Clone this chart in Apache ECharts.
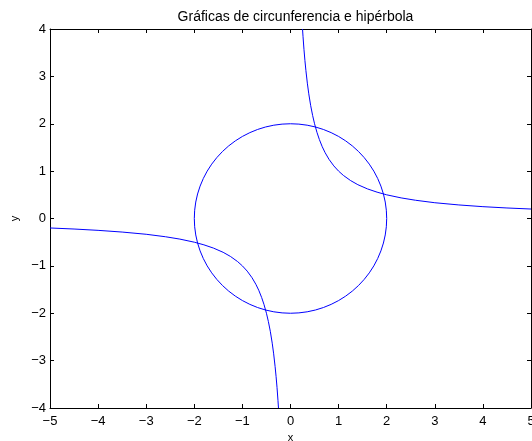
<!DOCTYPE html>
<html>
<head>
<meta charset="utf-8">
<script src="https://cdn.jsdelivr.net/npm/echarts@6/dist/echarts.min.js"></script>
<style>
  html, body { margin: 0; padding: 0; background: #fff; }
  #chart { width: 532px; height: 441px; }
</style>
</head>
<body>
<div id="chart"></div>
<script>
// Circle of radius 2, sampled every 5 degrees over the first quadrant (mirrored by sign below)
const circleQ1X = [2.0000, 1.9924, 1.9696, 1.9319, 1.8794, 1.8126, 1.7321, 1.6383, 1.5321, 1.4142,
                   1.2856, 1.1472, 1.0000, 0.8452, 0.6840, 0.5176, 0.3473, 0.1743, 0.0000];
const circleQ1Y = [0.0000, 0.1743, 0.3473, 0.5176, 0.6840, 0.8452, 1.0000, 1.1472, 1.2856, 1.4142,
                   1.5321, 1.6383, 1.7321, 1.8126, 1.8794, 1.9319, 1.9696, 1.9924, 2.0000];

// Hyperbola y = 1/x, positive branch samples
const hypX = [0.25, 0.26, 0.28, 0.30, 0.32, 0.35, 0.38, 0.42, 0.46, 0.50, 0.55, 0.60, 0.66, 0.72, 0.80, 0.90,
              1.00, 1.10, 1.25, 1.40, 1.60, 1.80, 2.00, 2.30, 2.60, 3.00, 3.50, 4.00, 4.50, 5.00];
const hypY = [4.000, 3.846, 3.571, 3.333, 3.125, 2.857, 2.632, 2.381, 2.174, 2.000, 1.818, 1.667, 1.515, 1.389, 1.250, 1.111,
              1.000, 0.909, 0.800, 0.714, 0.625, 0.556, 0.500, 0.435, 0.385, 0.333, 0.286, 0.250, 0.222, 0.200];

const xTicks = [-5, -4, -3, -2, -1, 0, 1, 2, 3, 4, 5];
const yTicks = [-4, -3, -2, -1, 0, 1, 2, 3, 4];

const titleText = 'Gráficas de circunferencia e hipérbola';

// Assemble full circle, going round counter-clockwise
const circle = [];
for (let i = 0; i < circleQ1X.length; i++) circle.push([circleQ1X[i], circleQ1Y[i]]);
for (let i = circleQ1X.length - 2; i >= 0; i--) circle.push([-circleQ1X[i], circleQ1Y[i]]);
for (let i = 1; i < circleQ1X.length; i++) circle.push([-circleQ1X[i], -circleQ1Y[i]]);
for (let i = circleQ1X.length - 2; i >= 0; i--) circle.push([circleQ1X[i], -circleQ1Y[i]]);

const hypPos = hypX.map((x, i) => [x, hypY[i]]);
const hypNeg = hypX.map((x, i) => [-x, -hypY[i]]);

const FONT = 'Liberation Sans, Arial, Helvetica, sans-serif';
const TITLE_FS = 14;
const TICK_FS = 13;
const NAME_FS = 11;
const minus = v => String(v).replace('-', '\u2212');

const GRID = { left: 50, right: 1, top: 29, bottom: 33 };

const axisCommon = {
  axisLine: { show: true, onZero: false, lineStyle: { color: '#000', width: 1 } },
  axisTick: { show: true, inside: true, length: 4, lineStyle: { color: '#000' } },
  splitLine: { show: false }
};

const chart = echarts.init(document.getElementById('chart'), null, { renderer: 'canvas' });
chart.setOption({
  animation: false,
  backgroundColor: '#fff',
  title: {
    text: titleText,
    left: GRID.left + (532 - GRID.left - GRID.right) / 2,
    textAlign: 'center',
    top: 5,
    textStyle: { fontFamily: FONT, fontSize: TITLE_FS, fontWeight: 'normal', color: '#000' }
  },
  grid: Object.assign({ outerBoundsMode: 'none', containLabel: false }, GRID),
  xAxis: [
    Object.assign({}, axisCommon, {
      type: 'value', min: xTicks[0], max: xTicks[xTicks.length - 1], interval: 1,
      position: 'bottom',
      name: 'x', nameLocation: 'middle', nameGap: 21,
      nameTextStyle: { fontFamily: FONT, fontSize: NAME_FS, color: '#000' },
      axisLabel: { margin: 7, fontFamily: FONT, fontSize: TICK_FS, color: '#000', formatter: minus }
    }),
    Object.assign({}, axisCommon, {
      type: 'value', min: xTicks[0], max: xTicks[xTicks.length - 1], interval: 1,
      position: 'top', axisLabel: { show: false }
    })
  ],
  yAxis: [
    Object.assign({}, axisCommon, {
      type: 'value', min: yTicks[0], max: yTicks[yTicks.length - 1], interval: 1,
      position: 'left',
      name: 'y', nameLocation: 'middle', nameGap: 30,
      nameTextStyle: { fontFamily: FONT, fontSize: NAME_FS, color: '#000' },
      axisLabel: { margin: 4, fontFamily: FONT, fontSize: TICK_FS, color: '#000', formatter: minus }
    }),
    Object.assign({}, axisCommon, {
      type: 'value', min: yTicks[0], max: yTicks[yTicks.length - 1], interval: 1,
      position: 'right', axisLabel: { show: false }
    })
  ],
  series: [
    { type: 'line', data: circle, showSymbol: false, clip: true,
      lineStyle: { color: '#0000ff', width: 1 } },
    { type: 'line', data: hypPos, showSymbol: false, clip: true,
      lineStyle: { color: '#0000ff', width: 1 } },
    { type: 'line', data: hypNeg, showSymbol: false, clip: true,
      lineStyle: { color: '#0000ff', width: 1 } }
  ]
});
</script>
</body>
</html>
